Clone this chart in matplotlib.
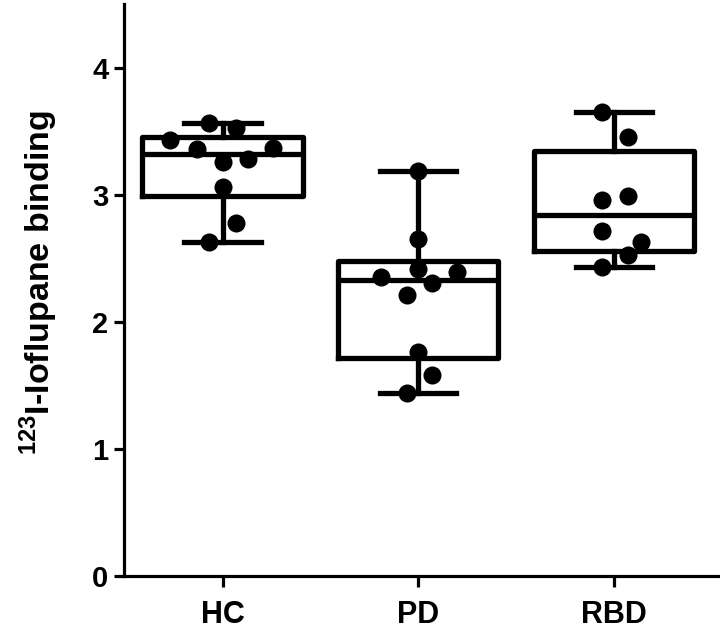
import matplotlib
matplotlib.use("Agg")
import matplotlib.pyplot as plt
import numpy as np

plt.rcParams['font.family'] = ['Liberation Sans', 'DejaVu Sans']

categories = ["HC", "PD", "RBD"]
hc = [3.57, 3.53, 3.43, 3.36, 3.37, 3.26, 3.28, 3.06, 2.78, 2.63]
pd_ = [3.19, 2.65, 2.42, 2.35, 2.39, 2.31, 2.21, 1.76, 1.58, 1.44]
rbd = [3.65, 3.46, 2.96, 2.99, 2.72, 2.63, 2.53, 2.43]
series = [hc, pd_, rbd]
# horizontal scatter offsets of each point (in category units)
jitter = [
    [-0.07, 0.07, -0.27, -0.13, 0.26, 0.0, 0.13, 0.0, 0.07, -0.07],
    [0.0, 0.0, 0.0, -0.19, 0.2, 0.07, -0.06, 0.0, 0.07, -0.06],
    [-0.06, 0.07, -0.06, 0.07, -0.06, 0.14, 0.07, -0.06],
]
yticks = [0, 1, 2, 3, 4]

fig = plt.figure(figsize=(7.2, 6.35), dpi=100)
ax = fig.add_axes([0.172, 0.093, 0.826, 0.9])

stats = []
for name, vals in zip(categories, series):
    v = np.array(vals)
    q1, med, q3 = np.percentile(v, [25, 50, 75], method='weibull')
    stats.append(dict(label=name, med=med, q1=q1, q3=q3,
                      whislo=v.min(), whishi=v.max(), fliers=[]))

lw = 3.8
pos = np.arange(len(categories))
ax.bxp(stats, positions=pos, widths=0.82, showfliers=False,
       boxprops=dict(linewidth=lw, color='black', solid_joinstyle='round'),
       medianprops=dict(linewidth=lw, color='black'),
       whiskerprops=dict(linewidth=lw, color='black'),
       capprops=dict(linewidth=lw, color='black'),
       capwidths=0.39, zorder=2)

for i, (vals, jit) in enumerate(zip(series, jitter)):
    ax.scatter(pos[i] + np.array(jit), vals, s=13**2, color='black', zorder=3,
               linewidths=0)

ax.set_xlim(-0.505, 2.535)
ax.set_ylim(0, 4.5)
ax.set_yticks(yticks)
ax.set_xticks(pos)
ax.set_xticklabels(categories)
for s in ['top', 'right']:
    ax.spines[s].set_visible(False)
for s in ['left', 'bottom']:
    ax.spines[s].set_linewidth(2.3)
ax.tick_params(axis='y', width=2.3, length=7, pad=4, labelsize=21)
ax.tick_params(axis='x', width=2.3, length=8, pad=9, labelsize=22)
for lab in ax.get_xticklabels() + ax.get_yticklabels():
    lab.set_fontweight('bold')
ax.set_ylabel(r'$^{\mathregular{123}}$I-Ioflupane binding', fontsize=24.5,
              fontweight='bold')
ax.yaxis.set_label_coords(-0.108, 0.513)

fig.savefig("out.png", dpi=100)
